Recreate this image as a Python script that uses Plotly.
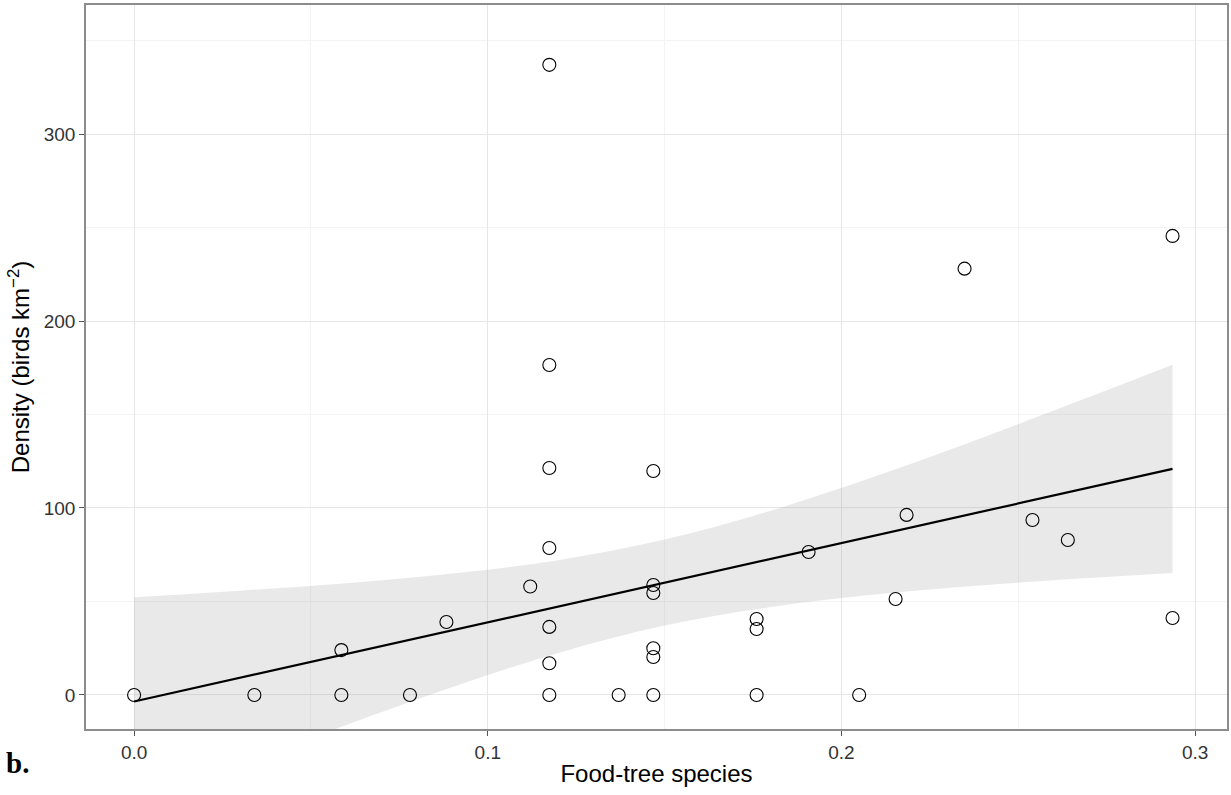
import plotly.graph_objects as go

food_tree = [0.0, 0.034, 0.0586, 0.0586, 0.078, 0.0883, 0.112,
             0.1174, 0.1174, 0.1174, 0.1174, 0.1174, 0.1174, 0.1174,
             0.137,
             0.1468, 0.1468, 0.1468, 0.1468, 0.1468, 0.1468,
             0.176, 0.176, 0.176,
             0.1907, 0.205, 0.2153, 0.2184, 0.2348, 0.254, 0.264,
             0.2936, 0.2936]
density = [0, 0, 0, 24, 0, 39, 58,
           337, 176.5, 121.4, 78.6, 36.4, 17, 0,
           0,
           119.8, 58.8, 54.5, 25, 20.3, 0,
           40.6, 35.3, 0,
           76.5, 0, 51.3, 96.3, 228, 93.6, 82.9,
           245.5, 41.2]

# Fitted line and confidence band
band_x = [0.0, 0.03, 0.06, 0.09, 0.12, 0.15, 0.18, 0.21, 0.24, 0.27, 0.2936]
fit_y = [-3.5, 9.2, 21.9, 34.6, 47.3, 60.1, 72.8, 85.5, 98.2, 110.9, 120.9]
band_upper = [52.3, 55.8, 59.8, 64.9, 72.1, 83.1, 98.5, 117.2, 137.7, 159.3, 176.6]
band_lower = [-59.3, -37.4, -16.0, 4.3, 22.5, 37.1, 47.1, 53.8, 58.7, 62.5, 65.2]

x_ticks = [0.0, 0.1, 0.2, 0.3]
x_tick_labels = ["0.0", "0.1", "0.2", "0.3"]
y_ticks = [0, 100, 200, 300]
y_tick_labels = ["0", "100", "200", "300"]

W, H = 1231, 795
ML, MR, MT, MB = 86, 4, 5, 66

fig = go.Figure()

fig.add_trace(go.Scatter(
    x=band_x, y=band_lower, mode="lines",
    line=dict(width=0, shape="spline", color="rgba(0,0,0,0)"),
    hoverinfo="skip", showlegend=False))
fig.add_trace(go.Scatter(
    x=band_x, y=band_upper, mode="lines",
    fill="tonexty", fillcolor="rgba(153,153,153,0.22)",
    line=dict(width=0, shape="spline", color="rgba(0,0,0,0)"),
    hoverinfo="skip", showlegend=False))

fig.add_trace(go.Scatter(
    x=band_x, y=fit_y, mode="lines",
    line=dict(color="black", width=2.2),
    showlegend=False))

fig.add_trace(go.Scatter(
    x=food_tree, y=density, mode="markers",
    marker=dict(symbol="circle-open", size=13, color="black",
                line=dict(width=1.1, color="black")),
    showlegend=False))

grid_major = "#e6e6e6"
grid_minor = "#f3f3f3"
font_family = "Liberation Sans, Arial, sans-serif"

common_axis = dict(
    tickfont=dict(size=19, color="#333333"),
    ticks="outside", ticklen=5, tickcolor="#555555", tickwidth=1,
    showgrid=True, gridcolor=grid_major, gridwidth=1,
    zeroline=False, automargin=False,
    showline=True, linecolor="#8c8c8c", linewidth=1.5, mirror=True,
)

fig.update_layout(
    width=W, height=H,
    margin=dict(l=ML, r=MR, t=MT, b=MB),
    paper_bgcolor="white", plot_bgcolor="white",
    font=dict(family=font_family, color="#333333"),
    xaxis=dict(
        range=[-0.0136, 0.309],
        tickvals=x_ticks, ticktext=x_tick_labels,
        minor=dict(dtick=0.05, tick0=0, showgrid=True, gridcolor=grid_minor, gridwidth=1, ticks=""),
        title=dict(text="Food-tree species", font=dict(size=24, color="black"), standoff=4),
        **common_axis,
    ),
    yaxis=dict(
        range=[-18.2, 369],
        tickvals=y_ticks, ticktext=y_tick_labels,
        minor=dict(dtick=50, tick0=0, showgrid=True, gridcolor=grid_minor, gridwidth=1, ticks=""),
        title=dict(text="Density (birds km<sup>\u22122</sup>)", font=dict(size=24, color="black"), standoff=7),
        **common_axis,
    ),
)

plot_w = W - ML - MR
plot_h = H - MT - MB
fig.add_annotation(
    text="<b>b.</b>", x=(4 - ML) / plot_w, y=(H - MB - 763) / plot_h,
    xref="paper", yref="paper", showarrow=False,
    xanchor="left", yanchor="middle",
    font=dict(family="Liberation Serif, Times New Roman, serif", size=29, color="black"))

fig.write_html("out.html", config={"displayModeBar": False},
               post_script="document.body.style.margin='0';")
